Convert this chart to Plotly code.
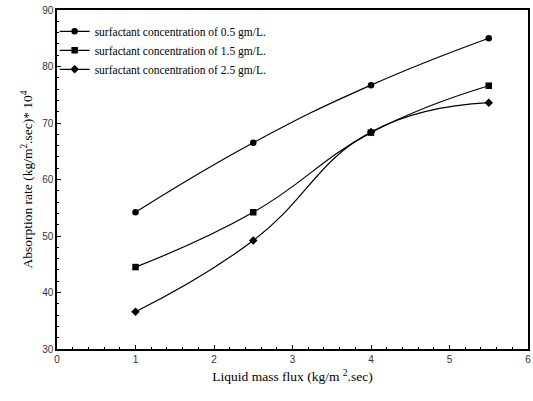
import plotly.graph_objects as go

# Liquid mass flux (kg/m^2.sec)
flux = [1.0, 2.5, 4.0, 5.5]

# Absorption rate (kg/m^2.sec) * 10^4 for each surfactant concentration
rate_05 = [54.2, 66.5, 76.7, 85.0]
rate_15 = [44.5, 54.2, 68.3, 76.6]
rate_25 = [36.6, 49.2, 68.4, 73.6]

series_names = [
    "surfactant concentration of 0.5 gm/L.",
    "surfactant concentration of 1.5 gm/L.",
    "surfactant concentration of 2.5 gm/L.",
]
series_values = [rate_05, rate_15, rate_25]
symbols = ["circle", "square", "diamond"]
sizes = [6.5, 6.5, 6.5]

fig = go.Figure()
for name, vals, sym, sz in zip(series_names, series_values, symbols, sizes):
    fig.add_trace(go.Scatter(
        x=flux, y=vals, name=name, mode="lines+markers",
        line=dict(color="black", width=1.2, shape="spline", smoothing=1.3),
        marker=dict(symbol=sym, size=sz, color="black"),
    ))

axis_common = dict(
    showline=True, linecolor="black", linewidth=1.5, mirror=True,
    ticks="inside", ticklen=4, tickwidth=1, tickcolor="black",
    showgrid=False, zeroline=False,
    tickfont=dict(family="Liberation Sans, Arial", size=10, color="#333"),
)

fig.update_xaxes(
    range=[0, 6], dtick=1, tick0=0,
    minor=dict(dtick=0.2, ticks="inside", ticklen=2, tickcolor="black"),
    title=dict(text="Liquid mass flux (kg/m <sup>2</sup>.sec)",
               font=dict(family="Liberation Serif, Times New Roman", size=13.5, color="black"),
               standoff=8),
    **axis_common,
)
fig.update_yaxes(
    range=[30, 90], dtick=10, tick0=30,
    minor=dict(dtick=2, ticks="inside", ticklen=2, tickcolor="black"),
    title=dict(text="Absorption rate (kg/m<sup>2</sup>.sec)* 10<sup>4</sup>",
               font=dict(family="Liberation Serif, Times New Roman", size=13.5, color="black"),
               standoff=6),
    **axis_common,
)

fig.update_layout(
    width=533, height=401,
    margin=dict(l=57, r=3, t=10, b=52),
    paper_bgcolor="white", plot_bgcolor="white",
    showlegend=True,
    legend=dict(
        x=-0.005, y=0.98, xanchor="left", yanchor="top",
        bgcolor="rgba(0,0,0,0)",
        font=dict(family="Liberation Serif, Times New Roman", size=11.5, color="black"),
        tracegroupgap=0, itemwidth=30,
    ),
)

fig.write_html("out.html")
